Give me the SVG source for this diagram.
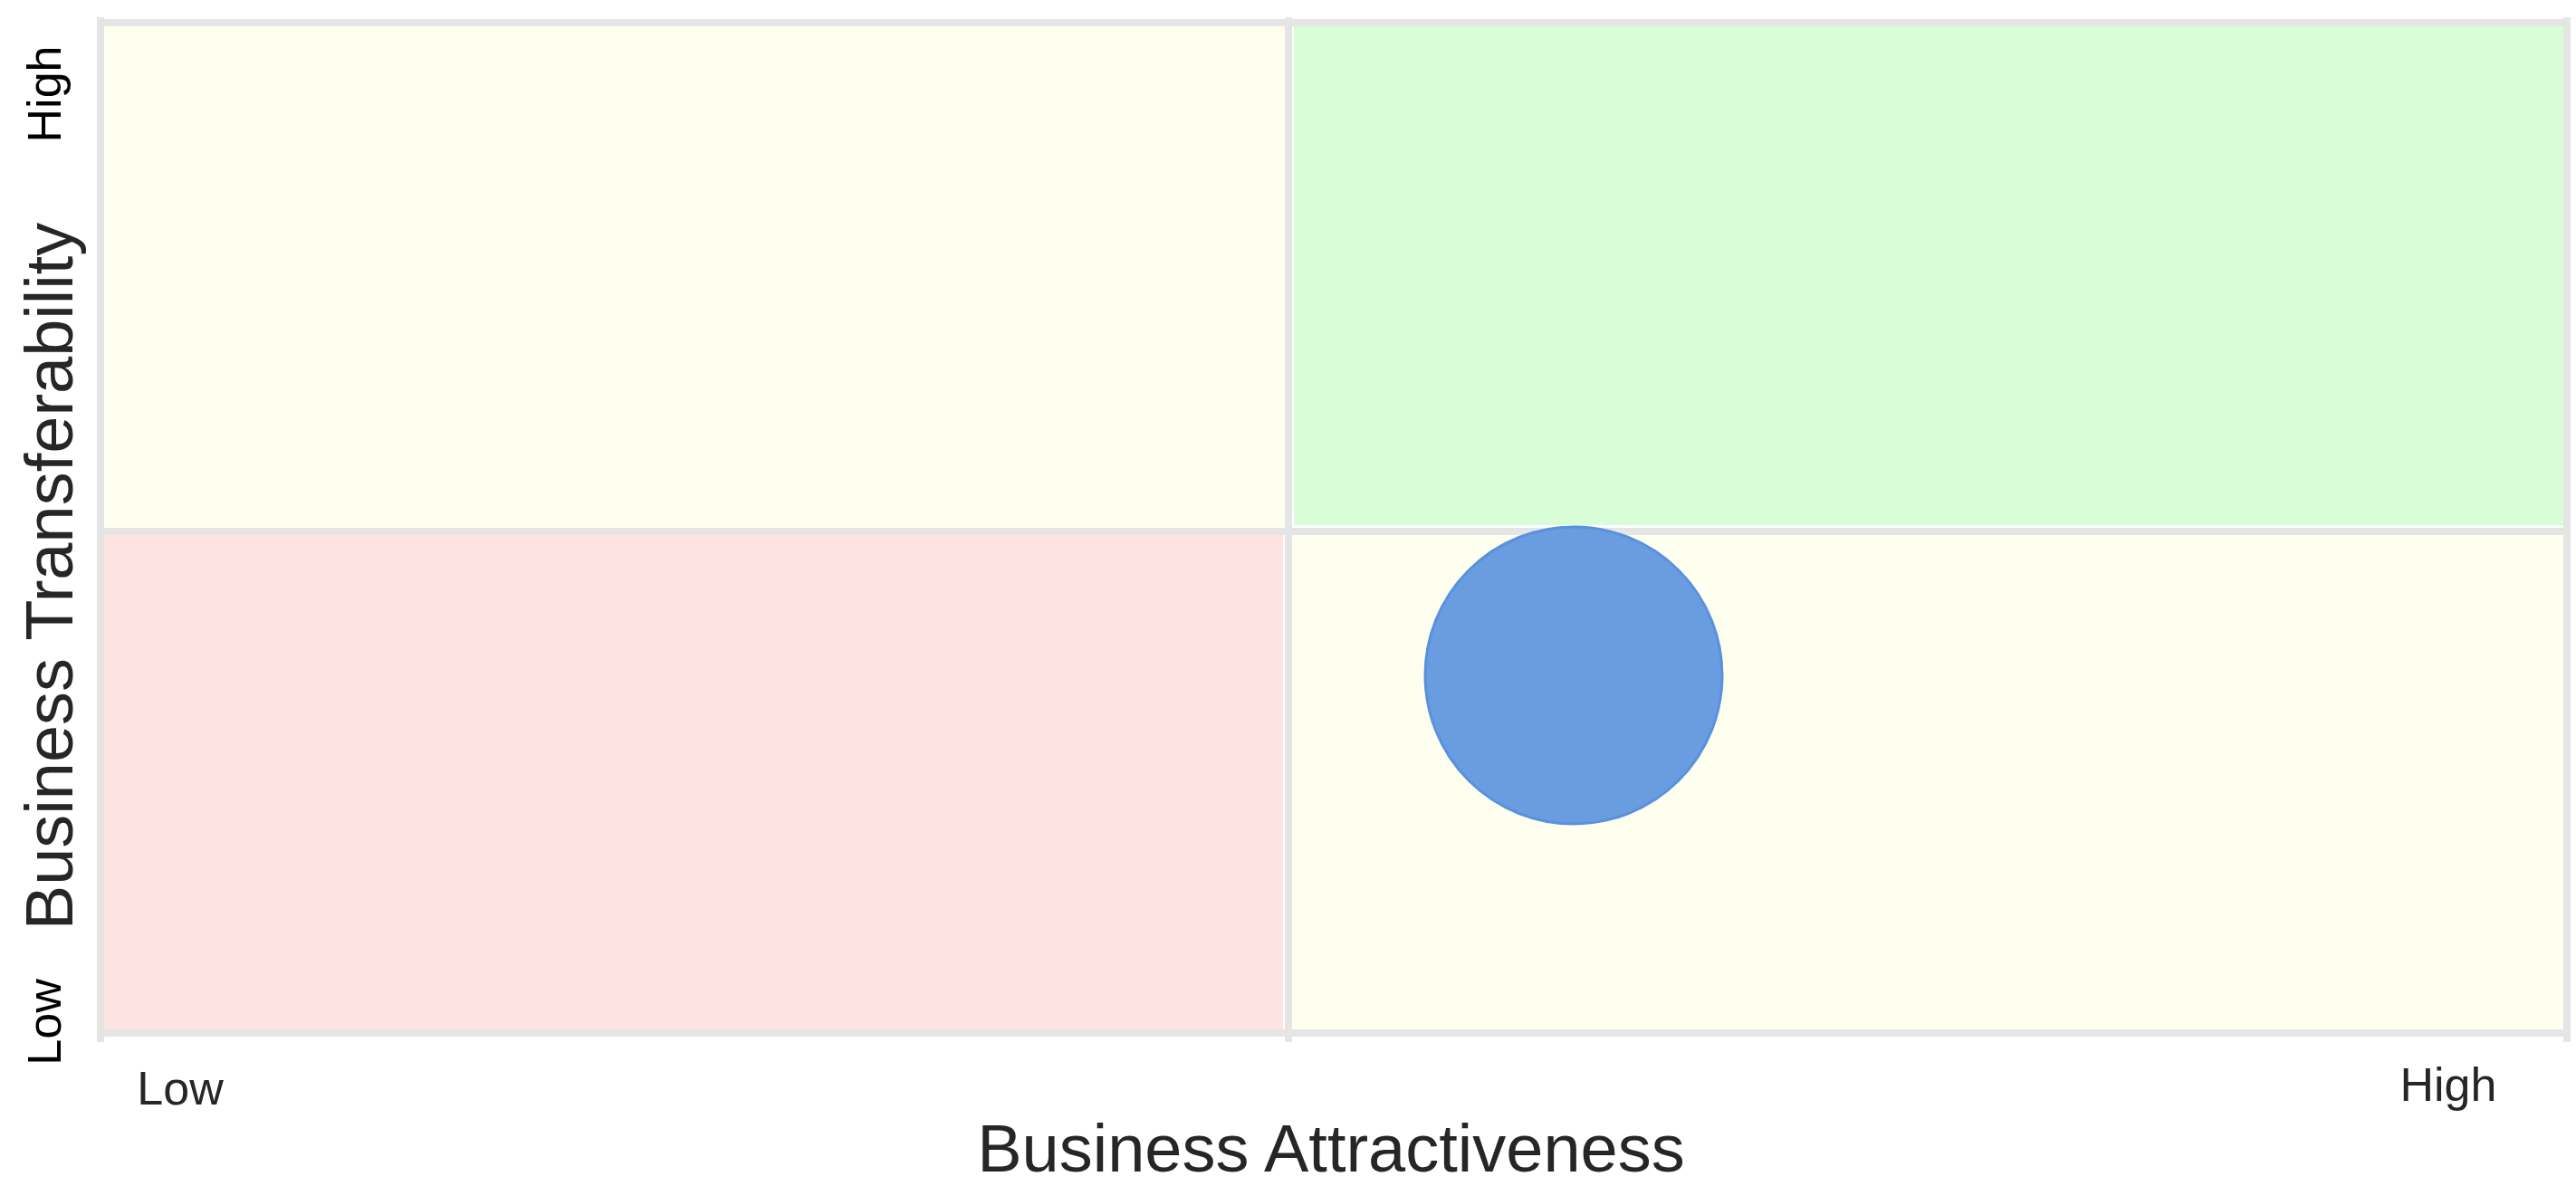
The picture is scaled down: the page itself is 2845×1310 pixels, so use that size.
<svg xmlns="http://www.w3.org/2000/svg" width="2845" height="1310" viewBox="0 0 2845 1310">
<style>
.grid{stroke:#E5E5E5;stroke-width:8;fill:none}
.tick{font-family:"Liberation Sans",Arial,sans-serif;font-size:52px;text-anchor:middle}
.axis{font-family:"Liberation Sans",Arial,sans-serif;font-size:74px;fill:#262626;text-anchor:middle}
</style>
<rect width="2845" height="1310" fill="#FFFFFF"/>
<g id="quadrants">
<rect id="q-top-left" x="115" y="29" width="1304" height="554" fill="#FEFFEE"/>
<rect id="q-top-right" x="1429" y="29" width="1402" height="551" fill="#D8FDD7"/>
<rect id="q-bottom-left" x="115" y="591" width="1302" height="546" fill="#FEE3E3"/>
<rect id="q-bottom-right" x="1427" y="591" width="1404" height="546" fill="#FEFFEE"/>
</g>
<g id="connectors">
<line class="grid" x1="111" y1="19" x2="111" y2="1151"/>
<line class="grid" x1="1423" y1="19" x2="1423" y2="1151"/>
<line class="grid" x1="2835" y1="19" x2="2835" y2="1151"/>
<line class="grid" x1="107" y1="25" x2="2839" y2="25"/>
<line class="grid" x1="107" y1="587" x2="2839" y2="587"/>
<line class="grid" x1="107" y1="1141" x2="2839" y2="1141"/>
</g>
<g id="bubble">
<circle cx="1738" cy="746" r="164" fill="#6A9DE0" stroke="#5A91DE" stroke-width="3"/>
</g>
<g id="labels">
<text class="tick" x="199" y="1220" fill="#262626">Low</text>
<text class="tick" x="2704" y="1216" fill="#262626">High</text>
<text class="tick" fill="#000000" transform="translate(67,104) rotate(-90)">High</text>
<text class="tick" fill="#000000" transform="translate(67,1129) rotate(-90)">Low</text>
<text class="axis" x="1470" y="1294">Business Attractiveness</text>
<text class="axis" transform="translate(80,636.5) rotate(-90)">Business Transferability</text>
</g>
</svg>
